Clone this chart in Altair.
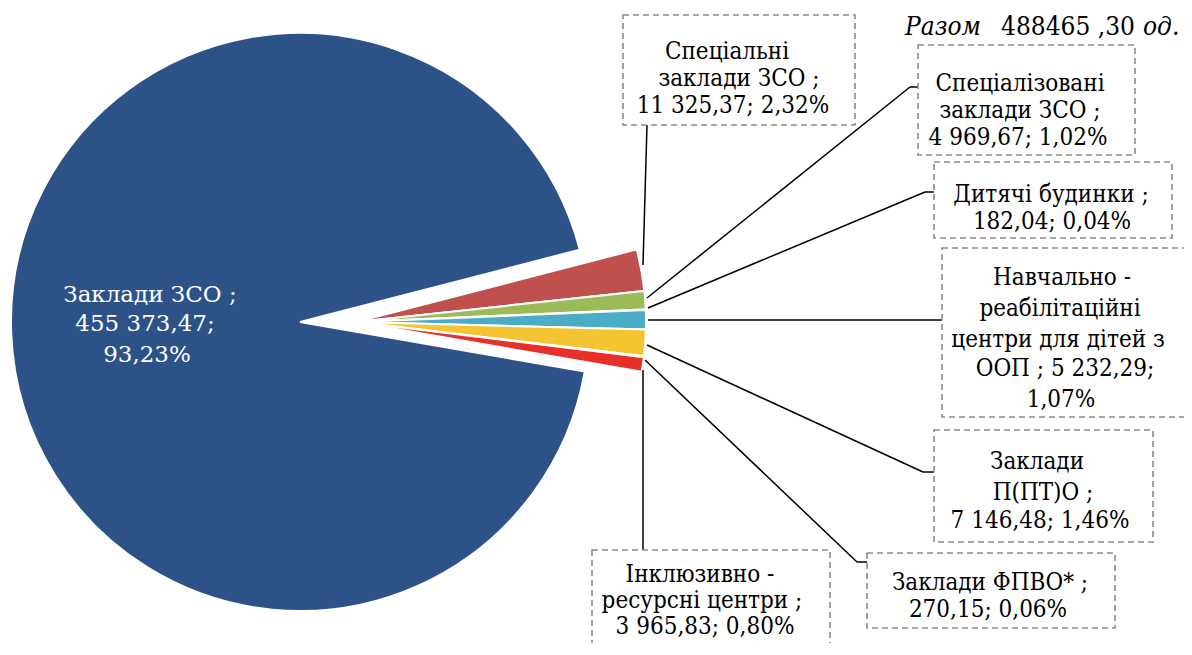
import math
import altair as alt
import pandas as pd

# ---------------- data ----------------
categories = [
    "Спеціальні заклади ЗСО",
    "Спеціалізовані заклади ЗСО",
    "Дитячі будинки",
    "Навчально-реабілітаційні центри для дітей з ООП",
    "Заклади П(ПТ)О",
    "Заклади ФПВО*",
    "Інклюзивно-ресурсні центри",
    "Заклади ЗСО",
]
values = [11325.37, 4969.67, 182.04, 5232.29, 7146.48, 270.15, 3965.83, 455373.47]
pct_labels = ["2,32%", "1,02%", "0,04%", "1,07%", "1,46%", "0,06%", "0,80%", "93,23%"]
colors = ["#C0504D", "#9BBB59", "#8064A2", "#4BACC6", "#F4C531", "#F79646", "#E8302B", "#2D5288"]
groups = ["small"] * 7 + ["main"]
total_label = ["Разом", "488465 ,30", "од."]


def fmt(v):
    s = f"{v:,.2f}"
    return s.replace(",", " ").replace(".", ",")


val_txt = [fmt(v) for v in values]

pie_df = pd.DataFrame({"cat": categories, "value": values, "order": list(range(len(values))), "group": groups})

OFF = 8  # page margin: screenshot coords -> chart coords
W, H = 1176, 635
FONT = "DejaVu Serif Condensed"
PFONT = "DejaVu Serif"
FS = 24

# ---------------- pie ----------------
start = math.radians(75.5)
theta = alt.Theta("value:Q", stack=True, scale=alt.Scale(range=[start, start + 2 * math.pi]))
color = alt.Color("cat:N", scale=alt.Scale(domain=categories, range=colors), legend=None)

base = alt.Chart(pie_df)
main_arc = base.mark_arc(outerRadius=289, stroke="white", strokeWidth=2).encode(
    theta=theta,
    color=color,
    order=alt.Order("order:Q"),
    x=alt.value(300 - OFF),
    y=alt.value(322 - OFF),
    opacity=alt.condition("datum.group == 'main'", alt.value(1), alt.value(0)),
)
small_arc = base.mark_arc(outerRadius=290, stroke="white", strokeWidth=2).encode(
    theta=theta,
    color=color,
    order=alt.Order("order:Q"),
    x=alt.value(356 - OFF),
    y=alt.value(322 - OFF),
    opacity=alt.condition("datum.group == 'small'", alt.value(1), alt.value(0)),
)

# ---------------- annotation layout (screenshot coordinates) ----------------
boxes = pd.DataFrame(
    [
        (623, 15, 855, 125),
        (918, 45, 1135, 155),
        (934, 162, 1172, 238),
        (942, 248, 1189, 417),
        (934, 430, 1153, 542),
        (867, 553, 1115, 628),
        (592, 550, 830, 720),
    ],
    columns=["x", "y", "x2", "y2"],
)
for c in boxes.columns:
    boxes[c] = boxes[c] - OFF

segments = pd.DataFrame(
    [
        (643, 265, 647, 125),
        (647, 298, 910, 87), (910, 87, 918, 87),
        (648, 308, 925, 192), (925, 192, 934, 192),
        (648, 320, 942, 320),
        (647, 345, 923, 472), (923, 472, 934, 472),
        (645, 360, 857, 562), (857, 562, 867, 562),
        (643, 370, 643, 550),
    ],
    columns=["x", "y", "x2", "y2"],
)
for c in segments.columns:
    segments[c] = segments[c] - OFF

lines = [
    ("Спеціальні", 727, 52),
    ("заклади ЗСО  ;", 739, 79),
    (f"{val_txt[0]}; {pct_labels[0]}", 733, 106),
    ("Спеціалізовані", 1020, 84),
    ("заклади ЗСО  ;", 1020, 111),
    (f"{val_txt[1]}; {pct_labels[1]}", 1018, 138),
    ("Дитячі будинки  ;", 1051, 195),
    (f"{val_txt[2]}; {pct_labels[2]}", 1052, 222),
    ("Навчально  -", 1062, 278),
    ("реабілітаційні", 1060, 309),
    ("центри для дітей з", 1058, 340),
    (f"ООП ; {val_txt[3]};", 1065, 369),
    (pct_labels[3], 1061, 400),
    ("Заклади", 1037, 462),
    ("П(ПТ)О ;", 1043, 493),
    (f"{val_txt[4]}; {pct_labels[4]}", 1040, 521),
    ("Заклади ФПВО*  ;", 990, 583),
    (f"{val_txt[5]}; {pct_labels[5]}", 988, 610),
    ("Інклюзивно  -", 700, 575),
    ("ресурсні центри  ;", 702, 601),
    (f"{val_txt[6]}; {pct_labels[6]}", 705, 627),
]
lines_df = pd.DataFrame(lines, columns=["text", "x", "y"])
lines_df["x"] -= OFF
lines_df["y"] -= OFF

pie_lines = [
    ("Заклади ЗСО  ;", 150, 295),
    (f"{val_txt[7]};", 145, 324),
    (pct_labels[7], 147, 355),
]
pie_df_lbl = pd.DataFrame(pie_lines, columns=["text", "x", "y"])
pie_df_lbl["x"] -= OFF
pie_df_lbl["y"] -= OFF

title_df = pd.DataFrame(
    {
        "text": total_label,
        "x": [905 - OFF, 1001 - OFF, 1143 - OFF],
        "y": [35 - OFF] * 3,
        "style": ["italic", "normal", "italic"],
    }
)

X = lambda f: alt.X(f, scale=None, axis=None)
Y = lambda f: alt.Y(f, scale=None, axis=None)

box_layer = alt.Chart(boxes).mark_rect(
    fillOpacity=0, stroke="#8a8a8a", strokeWidth=1.6, strokeDash=[6, 4]
).encode(x=X("x:Q"), x2="x2:Q", y=Y("y:Q"), y2="y2:Q")

seg_layer = alt.Chart(segments).mark_rule(color="black", strokeWidth=1.5).encode(
    x=X("x:Q"), x2="x2:Q", y=Y("y:Q"), y2="y2:Q"
)

text_layer = alt.Chart(lines_df).mark_text(
    font=FONT, fontSize=FS, color="black", align="center", baseline="middle"
).encode(x=X("x:Q"), y=Y("y:Q"), text="text:N")

pie_text_layer = alt.Chart(pie_df_lbl).mark_text(
    font=PFONT, fontSize=23, color="white", align="center", baseline="middle"
).encode(x=X("x:Q"), y=Y("y:Q"), text="text:N")

title_it = alt.Chart(title_df).transform_filter("datum.style == 'italic'").mark_text(
    font=FONT, fontSize=26, fontStyle="italic", color="black", align="left", baseline="alphabetic"
).encode(x=X("x:Q"), y=Y("y:Q"), text="text:N")
title_rg = alt.Chart(title_df).transform_filter("datum.style == 'normal'").mark_text(
    font=FONT, fontSize=26, color="black", align="left", baseline="alphabetic"
).encode(x=X("x:Q"), y=Y("y:Q"), text="text:N")

chart = (
    alt.layer(
        main_arc, small_arc, seg_layer, box_layer, text_layer,
        pie_text_layer, title_it, title_rg,
    )
    .properties(width=W, height=H, padding=0, autosize=alt.AutoSizeParams(type="none"))
    .configure_view(stroke=None)
)

chart.save("out.html", embed_options={"renderer": "svg", "actions": False})
